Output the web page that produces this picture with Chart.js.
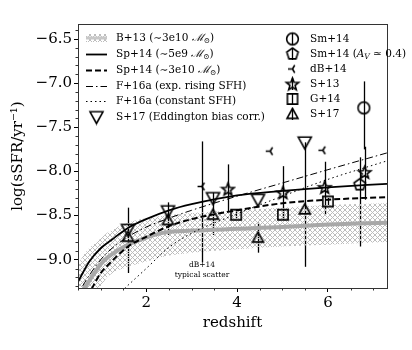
<!DOCTYPE html>
<html>
<head>
<meta charset="utf-8">
<script src="https://cdn.jsdelivr.net/npm/chart.js@4/dist/chart.umd.min.js"></script>
<style>
  html, body { margin: 0; padding: 0; background: #fff; }
</style>
</head>
<body>
<canvas id="chart" width="412" height="350"></canvas>
<script>
// ---------------- data ----------------

// B+13 (~3e10 Msun): median and hatched scatter band
const b13Z   = [0.5, 0.66, 1.0, 1.16, 1.6, 2.0, 2.42, 3.0, 4.0, 5.0, 6.0, 7.3];
const b13Mid = [-9.45, -9.31, -9.05, -8.97, -8.83, -8.75, -8.69, -8.67, -8.65, -8.63, -8.60, -8.58];
const b13Hi  = [-9.05, -8.92, -8.76, -8.69, -8.58, -8.53, -8.50, -8.47, -8.44, -8.41, -8.38, -8.36];
const b13Lo  = [-9.60, -9.50, -9.30, -9.19, -9.08, -9.02, -8.96, -8.92, -8.88, -8.85, -8.83, -8.80];

// Sp+14 (~5e9 Msun), solid
const sp14LowZ = [0.5, 0.75, 1.0, 1.25, 1.6, 2.0, 2.5, 3.0, 4.0, 5.0, 6.0, 7.3];
const sp14Low  = [-9.25, -9.02, -8.87, -8.77, -8.64, -8.54, -8.44, -8.37, -8.27, -8.22, -8.18, -8.14];

// Sp+14 (~3e10 Msun), dashed
const sp14HighZ = [0.8, 1.0, 1.16, 1.6, 2.0, 2.5, 3.0, 4.0, 5.0, 6.0, 7.3];
const sp14High  = [-9.33, -9.15, -9.06, -8.85, -8.74, -8.62, -8.54, -8.44, -8.36, -8.32, -8.29];

// F+16a exp. rising SFH, dash-dot
const f16ExpZ = [0.6, 0.73, 1.0, 1.16, 1.6, 2.0, 2.5, 3.0, 4.0, 5.0, 6.0, 7.3];
const f16Exp  = [-9.30, -9.19, -9.00, -8.91, -8.74, -8.63, -8.53, -8.44, -8.28, -8.13, -7.98, -7.79];

// F+16a constant SFH, dotted
const f16ConstZ = [1.45, 2.0, 2.5, 3.0, 4.0, 5.0, 6.0, 7.3];
const f16Const  = [-9.36, -9.10, -8.86, -8.70, -8.48, -8.28, -8.09, -7.88];

// S+17 (Eddington bias corr.)
const s17eZ = [1.6, 2.48, 3.47, 4.46, 5.49];
const s17eY = [-8.66, -8.45, -8.30, -8.32, -7.67];

// S+17
const s17Z  = [1.6, 2.48, 3.47, 4.46, 5.49];
const s17Y  = [-8.74, -8.55, -8.49, -8.75, -8.43];
const s17Lo = [-9.15, -8.72, -8.72, -8.92, -9.08];
const s17Hi = [-8.41, -8.35, -8.24, -8.58, -7.67];

// dB+14 (+ typical scatter bar)
const db14Z = [3.23, 4.73, 5.89];
const db14Y = [-8.17, -7.77, -7.76];
const db14ScatterZ = 3.23;
const db14Scatter = [-9.03, -7.66];

// S+13
const s13Z  = [3.80, 5.01, 5.93, 6.81];
const s13Y  = [-8.20, -8.24, -8.18, -8.01];
const s13Lo = [-8.45, -8.55, -8.49, -8.32];
const s13Hi = [-7.92, -7.94, -7.89, -7.72];

// G+14
const g14Z  = [3.98, 5.01, 6.0];
const g14Y  = [-8.49, -8.49, -8.34];
const g14Lo = [-8.53, -8.53, -8.38];
const g14Hi = [-8.45, -8.45, -8.30];

// Sm+14 and Sm+14 (A_V ~ 0.4)
const sm14Z = [6.79], sm14Y = [-7.28], sm14Lo = [-7.75], sm14Hi = [-6.98];
const sm14AvZ = [6.70], sm14AvY = [-8.15], sm14AvLo = [-8.85], sm14AvHi = [-7.84];

const xMajor = [2, 4, 6];
const yMajor = [-9.0, -8.5, -8.0, -7.5, -7.0, -6.5];

// ---------------- helpers ----------------

const SERIF = '"DejaVu Serif", "Liberation Serif", serif';

function pts(xs, ys) {
  return xs.map((x, i) => ({ x: x, y: ys[i] }));
}

// hatch pattern for the B+13 band
function makeHatch() {
  const pc = document.createElement('canvas');
  pc.width = 5; pc.height = 5;
  const g = pc.getContext('2d');
  g.strokeStyle = '#bdbdbd';
  g.lineWidth = 1;
  g.beginPath();
  g.moveTo(0, 0); g.lineTo(5, 5);
  g.moveTo(5, 0); g.lineTo(0, 5);
  g.stroke();
  return g.createPattern(pc, 'repeat');
}
const hatch = makeHatch();

// open markers drawn on small canvases
function makeMarker(kind, size) {
  const c = document.createElement('canvas');
  c.width = c.height = size + 4;
  const g = c.getContext('2d');
  const m = c.width / 2, r = size / 2;
  g.strokeStyle = '#000';
  g.lineWidth = 1.6;
  g.lineJoin = 'miter';
  g.beginPath();
  if (kind === 'tridown') {
    g.moveTo(m - r, m - r * 0.8); g.lineTo(m + r, m - r * 0.8); g.lineTo(m, m + r); g.closePath();
  } else if (kind === 'triup') {
    g.moveTo(m - r, m + r * 0.8); g.lineTo(m + r, m + r * 0.8); g.lineTo(m, m - r); g.closePath();
  } else if (kind === 'square') {
    g.rect(m - r * 0.85, m - r * 0.85, r * 1.7, r * 1.7);
  } else if (kind === 'circle') {
    g.arc(m, m, r * 0.9, 0, Math.PI * 2);
  } else if (kind === 'pentagon') {
    for (let i = 0; i < 5; i++) {
      const a = -Math.PI / 2 + i * 2 * Math.PI / 5;
      const px = m + r * Math.cos(a), py = m + r * Math.sin(a);
      if (i === 0) g.moveTo(px, py); else g.lineTo(px, py);
    }
    g.closePath();
  } else if (kind === 'star') {
    for (let i = 0; i < 10; i++) {
      const a = -Math.PI / 2 + i * Math.PI / 5;
      const rr = i % 2 === 0 ? r : r * 0.42;
      const px = m + rr * Math.cos(a), py = m + rr * Math.sin(a) + 0.5;
      if (i === 0) g.moveTo(px, py); else g.lineTo(px, py);
    }
    g.closePath();
  } else if (kind === 'trileft') {
    g.moveTo(m, m); g.lineTo(m - r, m);
    g.moveTo(m, m); g.lineTo(m + r * 0.5, m - r * 0.87);
    g.moveTo(m, m); g.lineTo(m + r * 0.5, m + r * 0.87);
  }
  g.stroke();
  return c;
}

const mk = {
  tridown: makeMarker('tridown', 13),
  triup: makeMarker('triup', 11),
  square: makeMarker('square', 12),
  circle: makeMarker('circle', 13),
  pentagon: makeMarker('pentagon', 12),
  star: makeMarker('star', 13),
  trileft: makeMarker('trileft', 9)
};

// error bars, built from the arrays above
const errorBars = [];
function addErr(xs, lo, hi) {
  xs.forEach((x, i) => errorBars.push({ x: x, lo: lo[i], hi: hi[i] }));
}
addErr(s17Z, s17Lo, s17Hi);
addErr(s13Z, s13Lo, s13Hi);
addErr(g14Z, g14Lo, g14Hi);
addErr(sm14Z, sm14Lo, sm14Hi);
addErr(sm14AvZ, sm14AvLo, sm14AvHi);
addErr([db14ScatterZ], [db14Scatter[0]], [db14Scatter[1]]);

// ---------------- plugins ----------------

const extras = {
  id: 'extras',
  beforeDatasetsDraw(chart) {
    const { ctx, chartArea: a, scales: { x, y } } = chart;
    ctx.save();
    ctx.beginPath();
    ctx.rect(a.left, a.top, a.right - a.left, a.bottom - a.top);
    ctx.clip();
    ctx.strokeStyle = '#000';
    ctx.lineWidth = 1.3;
    errorBars.forEach(e => {
      const px = Math.round(x.getPixelForValue(e.x)) + 0.5;
      ctx.beginPath();
      ctx.moveTo(px, y.getPixelForValue(e.lo));
      ctx.lineTo(px, y.getPixelForValue(e.hi));
      ctx.stroke();
    });
    ctx.restore();
  },
  afterDraw(chart) {
    const { ctx, chartArea: a, scales: { x, y } } = chart;
    ctx.save();

    // frame
    ctx.strokeStyle = '#333';
    ctx.lineWidth = 1;
    ctx.strokeRect(Math.round(a.left) + 0.5, Math.round(a.top) + 0.5,
                   Math.round(a.right - a.left), Math.round(a.bottom - a.top));

    // minor ticks
    ctx.beginPath();
    for (let v = 0.5; v < 7.3; v += 0.5) {
      if (xMajor.includes(v)) continue;
      const px = Math.round(x.getPixelForValue(v)) + 0.5;
      ctx.moveTo(px, a.bottom); ctx.lineTo(px, a.bottom + 2.5);
    }
    for (let k = -93; k <= -64; k++) {
      const v = k / 10;
      if (k % 5 === 0) continue;
      const py = Math.round(y.getPixelForValue(v)) + 0.5;
      ctx.moveTo(a.left, py); ctx.lineTo(a.left - 2.5, py);
    }
    ctx.stroke();

    // dB+14 typical scatter note
    ctx.fillStyle = '#000';
    ctx.textAlign = 'center';
    ctx.textBaseline = 'middle';
    ctx.font = '7.5px ' + SERIF;
    const nx = x.getPixelForValue(db14ScatterZ);
    ctx.fillText('dB+14', nx, y.getPixelForValue(-9.06));
    ctx.fillText('typical scatter', nx, y.getPixelForValue(-9.17));

    drawLegend(ctx);
    ctx.restore();
  }
};

function drawRich(ctx, x, y, segs) {
  ctx.textAlign = 'left';
  ctx.textBaseline = 'middle';
  segs.forEach(s => {
    const t = s[0], st = s[1] || '';
    let size = 10.5, dy = 0, style = '';
    if (st.includes('sub')) { size = 7.5; dy = 3; }
    if (st.includes('it')) style = 'italic ';
    ctx.font = style + size + 'px ' + SERIF;
    ctx.fillText(t, x, y + dy);
    x += ctx.measureText(t).width;
  });
}

function drawLegend(ctx) {
  ctx.fillStyle = '#000';
  ctx.strokeStyle = '#000';

  // left column
  const lx = 86, lw = 21, tx = 116;
  const rowsL = [38, 54, 70, 86, 101, 117];

  // B+13 band handle
  ctx.save();
  ctx.fillStyle = hatch;
  ctx.fillRect(lx, rowsL[0] - 4, lw, 8);
  ctx.strokeStyle = '#c8c8c8';
  ctx.lineWidth = 3;
  ctx.beginPath(); ctx.moveTo(lx, rowsL[0]); ctx.lineTo(lx + lw, rowsL[0]); ctx.stroke();
  ctx.restore();

  const lineHandles = [
    { y: rowsL[1], dash: [], w: 1.8 },
    { y: rowsL[2], dash: [6, 3], w: 2 },
    { y: rowsL[3], dash: [7, 3, 1.5, 3], w: 1 },
    { y: rowsL[4], dash: [1.5, 3], w: 1 }
  ];
  lineHandles.forEach(h => {
    ctx.save();
    ctx.lineWidth = h.w;
    ctx.setLineDash(h.dash);
    ctx.beginPath(); ctx.moveTo(lx, h.y + 0.5); ctx.lineTo(lx + lw, h.y + 0.5); ctx.stroke();
    ctx.restore();
  });
  const im = mk.tridown;
  ctx.drawImage(im, lx + lw / 2 - im.width / 2, rowsL[5] - im.height / 2);

  drawRich(ctx, tx, rowsL[0], [['B+13 (∼3e10 '], ['ℳ', 'it'], ['⊙', 'sub'], [')']]);
  drawRich(ctx, tx, rowsL[1], [['Sp+14 (∼5e9 '], ['ℳ', 'it'], ['⊙', 'sub'], [')']]);
  drawRich(ctx, tx, rowsL[2], [['Sp+14 (∼3e10 '], ['ℳ', 'it'], ['⊙', 'sub'], [')']]);
  drawRich(ctx, tx, rowsL[3], [['F+16a (exp. rising SFH)']]);
  drawRich(ctx, tx, rowsL[4], [['F+16a (constant SFH)']]);
  drawRich(ctx, tx, rowsL[5], [['S+17 (Eddington bias corr.)']]);

  // right column
  const rx = 292, rtx = 310;
  const rowsR = [39, 54, 69, 84, 99, 114];
  const rightItems = [
    { m: mk.circle, bar: true, segs: [['Sm+14']] },
    { m: mk.pentagon, bar: true, segs: [['Sm+14 ('], ['A', 'it'], ['V', 'it sub'], [' ≃ 0.4)']] },
    { m: mk.trileft, bar: false, segs: [['dB+14']] },
    { m: mk.star, bar: true, segs: [['S+13']] },
    { m: mk.square, bar: true, segs: [['G+14']] },
    { m: mk.triup, bar: true, segs: [['S+17']] }
  ];
  rightItems.forEach((it, i) => {
    const yy = rowsR[i];
    if (it.bar) {
      ctx.save();
      ctx.lineWidth = 1.3;
      ctx.beginPath();
      ctx.moveTo(rx + 0.5, yy - 6); ctx.lineTo(rx + 0.5, yy + 6);
      ctx.stroke();
      ctx.restore();
    }
    ctx.drawImage(it.m, rx - it.m.width / 2 + 0.5, yy - it.m.height / 2);
    drawRich(ctx, rtx, yy, it.segs);
  });
}

// ---------------- chart ----------------

const lineBase = {
  type: 'line',
  pointRadius: 0,
  pointHoverRadius: 0,
  fill: false,
  cubicInterpolationMode: 'monotone',
  borderColor: '#000'
};

function scatterSet(label, xs, ys, marker) {
  return {
    type: 'scatter',
    label: label,
    data: pts(xs, ys),
    pointStyle: marker,
    pointRadius: 6,
    pointHoverRadius: 6,
    showLine: false,
    order: 1
  };
}

new Chart(document.getElementById('chart'), {
  data: {
    datasets: [
      scatterSet('S+17 (Eddington bias corr.)', s17eZ, s17eY, mk.tridown),
      scatterSet('S+17', s17Z, s17Y, mk.triup),
      scatterSet('dB+14', db14Z, db14Y, mk.trileft),
      scatterSet('S+13', s13Z, s13Y, mk.star),
      scatterSet('G+14', g14Z, g14Y, mk.square),
      scatterSet('Sm+14', sm14Z, sm14Y, mk.circle),
      scatterSet('Sm+14 (Av)', sm14AvZ, sm14AvY, mk.pentagon),
      Object.assign({}, lineBase, { label: 'Sp+14 5e9', data: pts(sp14LowZ, sp14Low), borderWidth: 1.8, order: 3 }),
      Object.assign({}, lineBase, { label: 'Sp+14 3e10', data: pts(sp14HighZ, sp14High), borderWidth: 2, borderDash: [6, 3], order: 3 }),
      Object.assign({}, lineBase, { label: 'F+16a exp', data: pts(f16ExpZ, f16Exp), borderWidth: 1, borderDash: [7, 3, 1.5, 3], order: 3 }),
      Object.assign({}, lineBase, { label: 'F+16a const', data: pts(f16ConstZ, f16Const), borderWidth: 1, borderDash: [1.5, 3], order: 3 }),
      Object.assign({}, lineBase, { label: 'B+13', data: pts(b13Z, b13Mid), borderWidth: 4, borderColor: '#a8a8a8', order: 8 }),
      Object.assign({}, lineBase, { label: 'B+13 hi', data: pts(b13Z, b13Hi), borderWidth: 0, fill: '+1', backgroundColor: hatch, order: 9 }),
      Object.assign({}, lineBase, { label: 'B+13 lo', data: pts(b13Z, b13Lo), borderWidth: 0, order: 9 })
    ]
  },
  options: {
    responsive: false,
    animation: false,
    events: [],
    layout: { padding: { top: 24, right: 25, left: 0, bottom: 0 } },
    plugins: {
      legend: { display: false },
      tooltip: { enabled: false }
    },
    scales: {
      x: {
        type: 'linear',
        min: 0.5,
        max: 7.3,
        afterBuildTicks: s => { s.ticks = xMajor.map(v => ({ value: v })); },
        afterFit: s => { s.height = 62; },
        grid: { drawOnChartArea: false, drawTicks: true, tickLength: 4, tickColor: '#000' },
        border: { display: false },
        ticks: { color: '#000', font: { family: SERIF, size: 15 }, padding: 2, maxRotation: 0 },
        title: { display: true, text: 'redshift', color: '#000', font: { family: SERIF, size: 15 }, padding: { top: 0, bottom: 18 } }
      },
      y: {
        type: 'linear',
        min: -9.32,
        max: -6.33,
        afterBuildTicks: s => { s.ticks = yMajor.map(v => ({ value: v })); },
        afterFit: s => { s.width = 78; },
        grid: { drawOnChartArea: false, drawTicks: true, tickLength: 4, tickColor: '#000' },
        border: { display: false },
        ticks: {
          color: '#000',
          font: { family: SERIF, size: 15 },
          padding: 2,
          callback: v => (v < 0 ? '\u2212' : '') + Math.abs(v).toFixed(1)
        },
        title: { display: true, text: 'log(sSFR/yr\u207B\u00B9)', color: '#000', font: { family: SERIF, size: 15 }, padding: { top: 9, bottom: 0 } }
      }
    }
  },
  plugins: [extras]
});
</script>
</body>
</html>
